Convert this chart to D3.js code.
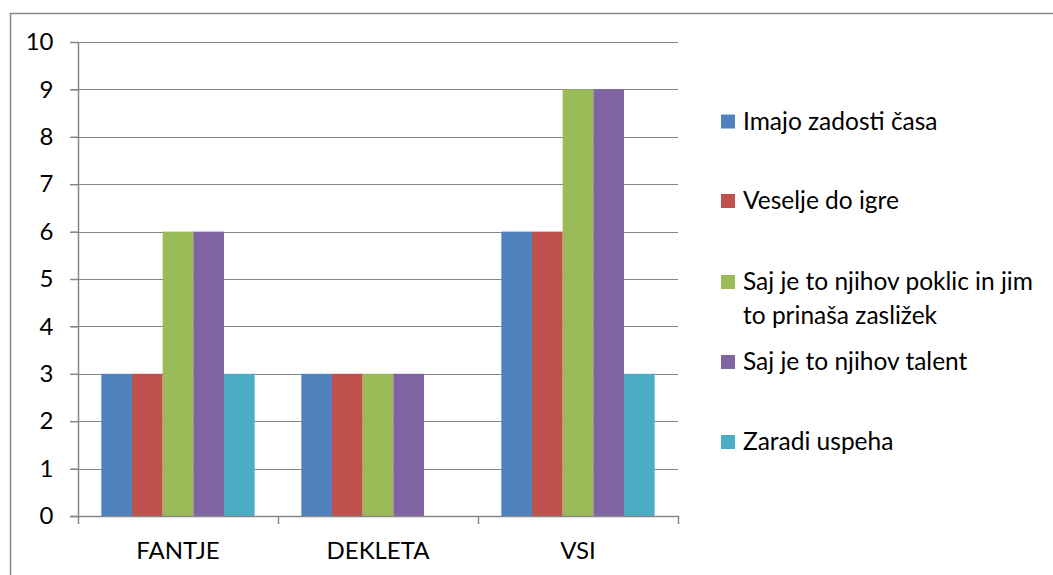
<!DOCTYPE html>
<html>
<head>
<meta charset="utf-8">
<script src="https://cdn.jsdelivr.net/npm/d3@7"></script>
<style>
    body { margin: 0; background: #fff; }
    text { font-family: Lato, "Open Sans", sans-serif; fill: #000; }
</style>
</head>
<body>
<div id="chart-area"></div>
<script>

// categories and series
let categories = ["FANTJE", "DEKLETA", "VSI"];
let seriesNames = [
    ["Imajo zadosti časa"],
    ["Veselje do igre"],
    ["Saj je to njihov poklic in jim", "to prinaša zasližek"],
    ["Saj je to njihov talent"],
    ["Zaradi uspeha"]
];
let seriesColors = ["#4F81BD", "#C0504D", "#9BBB59", "#8064A2", "#4BACC6"];

// one value per category, per series
let imajoZadosti = [3, 3, 6];
let veseljeDoIgre = [3, 3, 6];
let sajPoklic = [6, 3, 9];
let sajTalent = [6, 3, 9];
let zaradiUspeha = [3, 0, 3];

let yTicks = [0, 1, 2, 3, 4, 5, 6, 7, 8, 9, 10];

let seriesValues = [imajoZadosti, veseljeDoIgre, sajPoklic, sajTalent, zaradiUspeha];

class BarChart {

    constructor(parentElement) {
        this._parentElement = parentElement;
    }

    initVis() {
        let vis = this;

        vis.width = 1053;
        vis.height = 575;

        vis.svg = d3.select("#" + vis._parentElement).append("svg")
            .attr("width", vis.width)
            .attr("height", vis.height);

        // outer chart border (runs off the right and bottom of the picture)
        vis.svg.append("rect")
            .attr("x", 10.5)
            .attr("y", 13.5)
            .attr("width", 1100)
            .attr("height", 600)
            .attr("fill", "none")
            .attr("stroke", "#868686")
            .attr("stroke-width", 1.5);

        vis.plot = {left: 78, right: 678, top: 42, bottom: 516};

        // scales
        vis.x0 = d3.scaleBand()
            .domain(categories)
            .range([vis.plot.left, vis.plot.right]);

        let bw = vis.x0.bandwidth();
        vis.x1 = d3.scaleBand()
            .domain(d3.range(seriesNames.length))
            .range([bw * 0.1167, bw * 0.8833]);

        vis.y = d3.scaleLinear()
            .domain([0, 10])
            .range([vis.plot.bottom, vis.plot.top]);

        // horizontal grid lines + left ticks
        vis.svg.append("g")
            .attr("class", "grid")
            .selectAll("line")
            .data(yTicks.filter(d => d > 0))
            .enter().append("line")
            .attr("x1", vis.plot.left - 8)
            .attr("x2", vis.plot.right)
            .attr("y1", d => Math.round(vis.y(d)) + 0.5)
            .attr("y2", d => Math.round(vis.y(d)) + 0.5)
            .attr("stroke", "#868686")
            .attr("stroke-width", 1.2);

        // bars
        let rows = [];
        seriesValues.forEach((vals, s) => {
            vals.forEach((v, c) => rows.push({s: s, c: c, v: v}));
        });

        vis.svg.append("g")
            .attr("class", "bars")
            .selectAll("rect")
            .data(rows.filter(d => d.v > 0))
            .enter().append("rect")
            .attr("x", d => vis.x0(categories[d.c]) + vis.x1(d.s))
            .attr("width", vis.x1.bandwidth())
            .attr("y", d => vis.y(d.v))
            .attr("height", d => vis.y(0) - vis.y(d.v))
            .attr("fill", d => seriesColors[d.s]);

        // y-axis
        vis.yAxis = d3.axisLeft(vis.y)
            .tickValues(yTicks)
            .tickSize(8)
            .tickPadding(17)
            .tickFormat(d3.format("d"));

        vis.svg.append("g")
            .attr("class", "y-axis axis")
            .attr("transform", "translate(" + (vis.plot.left + 0.5) + ",0)")
            .call(vis.yAxis)
            .call(g => g.selectAll("line, path").attr("stroke", "#868686").attr("stroke-width", 1.5))
            .call(g => g.select(".domain").attr("d", "M0," + vis.plot.top + "V" + vis.plot.bottom))
            .call(g => g.selectAll("text").attr("font-size", 24).attr("font-family", null));

        // x-axis with ticks on category borders
        vis.svg.append("line")
            .attr("x1", vis.plot.left - 8)
            .attr("x2", vis.plot.right + 1)
            .attr("y1", vis.plot.bottom + 0.5)
            .attr("y2", vis.plot.bottom + 0.5)
            .attr("stroke", "#868686")
            .attr("stroke-width", 1.5);

        let borders = categories.map(c => vis.x0(c)).concat([vis.plot.right]);
        vis.svg.append("g")
            .selectAll("line")
            .data(borders)
            .enter().append("line")
            .attr("x1", d => d + 0.5)
            .attr("x2", d => d + 0.5)
            .attr("y1", vis.plot.bottom)
            .attr("y2", vis.plot.bottom + 8)
            .attr("stroke", "#868686")
            .attr("stroke-width", 1.5);

        vis.svg.append("g")
            .selectAll("text")
            .data(categories)
            .enter().append("text")
            .attr("x", d => vis.x0(d) + bw / 2)
            .attr("y", 559)
            .attr("text-anchor", "middle")
            .attr("font-size", 24)
            .text(d => d);

        // legend
        let legendY = [121.5, 201, 282, 362, 442];
        let legend = vis.svg.append("g").attr("class", "legend")
            .selectAll("g")
            .data(seriesNames)
            .enter().append("g")
            .attr("transform", (d, i) => "translate(721," + legendY[i] + ")");

        legend.append("rect")
            .attr("x", 0)
            .attr("y", -7)
            .attr("width", 14)
            .attr("height", 14)
            .attr("fill", (d, i) => seriesColors[i]);

        legend.append("text")
            .attr("x", 22)
            .attr("y", 8)
            .attr("font-size", 24.5)
            .selectAll("tspan")
            .data(d => d)
            .enter().append("tspan")
            .attr("x", 22)
            .attr("dy", (d, i) => i === 0 ? 0 : 34)
            .text(d => d);
    }
}

let myBarChart = new BarChart("chart-area");
myBarChart.initVis();

</script>
</body>
</html>
